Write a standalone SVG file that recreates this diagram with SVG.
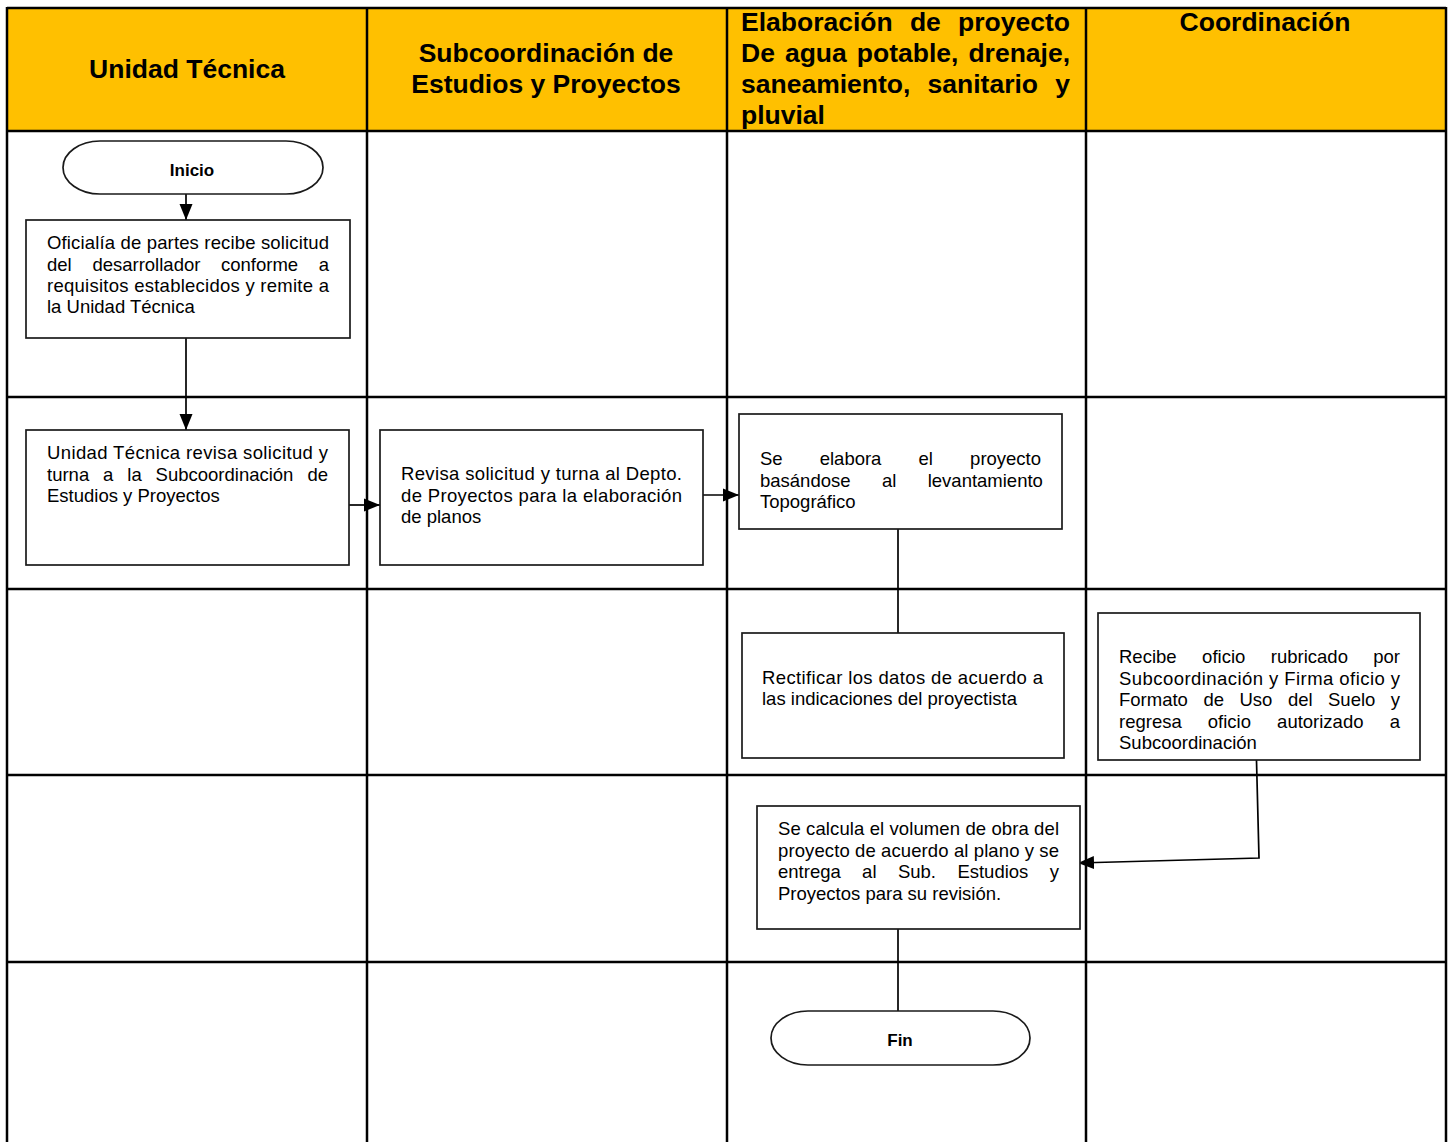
<svg xmlns="http://www.w3.org/2000/svg" width="1452" height="1142" viewBox="0 0 1452 1142">
<style>
text{font-family:"Liberation Sans",Arial,Helvetica,sans-serif;fill:#000}
.t{font-size:18.5px}
.h{font-size:26.5px;font-weight:bold}
.term{font-size:17px;font-weight:bold}
.grid{stroke:#000;stroke-width:2.5;fill:none}
.box{fill:#fff;stroke:#1a1a1a;stroke-width:1.7}
.conn{stroke:#000;stroke-width:1.7;fill:none}
</style>
<defs>
<marker id="arr" markerUnits="userSpaceOnUse" markerWidth="17" markerHeight="14" refX="16" refY="7" orient="auto">
<path d="M0,0.5 L16,7 L0,13.5 Z" fill="#000"/>
</marker>
</defs>
<rect x="0" y="0" width="1452" height="1142" fill="#fff"/>
<g id="table">
<rect x="7" y="8" width="1439" height="123" fill="#FFC000"/>
<line class="grid" x1="7" y1="8" x2="1446" y2="8"/>
<line class="grid" x1="7" y1="131" x2="1446" y2="131"/>
<line class="grid" x1="7" y1="397" x2="1446" y2="397"/>
<line class="grid" x1="7" y1="589" x2="1446" y2="589"/>
<line class="grid" x1="7" y1="775" x2="1446" y2="775"/>
<line class="grid" x1="7" y1="962" x2="1446" y2="962"/>
<line class="grid" x1="7" y1="7" x2="7" y2="1142"/>
<line class="grid" x1="367" y1="7" x2="367" y2="1142"/>
<line class="grid" x1="727" y1="7" x2="727" y2="1142"/>
<line class="grid" x1="1086" y1="7" x2="1086" y2="1142"/>
<line class="grid" x1="1446" y1="7" x2="1446" y2="1142"/>
<text class="h" x="187" y="78" text-anchor="middle">Unidad Técnica</text>
<text class="h" x="546" y="62" text-anchor="middle">Subcoordinación de</text>
<text class="h" x="546" y="93" text-anchor="middle">Estudios y Proyectos</text>
<text class="h" y="31"><tspan x="741">Elaboración</tspan><tspan x="909.9">de</tspan><tspan x="958.1">proyecto</tspan></text>
<text class="h" y="62"><tspan x="741">De</tspan><tspan x="784.9">agua</tspan><tspan x="856.8">potable,</tspan><tspan x="968.4">drenaje,</tspan></text>
<text class="h" y="93"><tspan x="741">saneamiento,</tspan><tspan x="927.6">sanitario</tspan><tspan x="1055.3">y</tspan></text>
<text class="h" x="741" y="124">pluvial</text>
<text class="h" x="1265" y="31" text-anchor="middle">Coordinación</text>
</g>
<g id="connectors">
<line class="conn" x1="186" y1="194" x2="186" y2="220" marker-end="url(#arr)"/>
<line class="conn" x1="186" y1="338" x2="186" y2="430" marker-end="url(#arr)"/>
<line class="conn" x1="349" y1="505" x2="380" y2="505" marker-end="url(#arr)"/>
<line class="conn" x1="703" y1="495" x2="739" y2="495" marker-end="url(#arr)"/>
<line class="conn" x1="898" y1="529" x2="898" y2="633"/>
<path class="conn" d="M1256,741 L1259,858 L1078,863" marker-end="url(#arr)"/>
<line class="conn" x1="898" y1="929" x2="898" y2="1011"/>
</g>
<g id="inicio">
<path class="box" d="M100,141 H286 A37,26.5 0 0 1 286,194 H100 A37,26.5 0 0 1 100,141 Z"/>
<text class="term" x="192" y="176" text-anchor="middle">Inicio</text>
</g>
<g id="n1">
<rect class="box" x="26" y="220" width="324" height="118"/>
<text class="t" x="47" y="249" textLength="282" lengthAdjust="spacing">Oficialía de partes recibe solicitud</text>
<text class="t" y="270.5"><tspan x="47">del</tspan><tspan x="92.4">desarrollador</tspan><tspan x="221">conforme</tspan><tspan x="318.7">a</tspan></text>
<text class="t" x="47" y="292" textLength="282" lengthAdjust="spacing">requisitos establecidos y remite a</text>
<text class="t" x="47" y="313">la Unidad Técnica</text>
</g>
<g id="n2">
<rect class="box" x="26" y="430" width="323" height="135"/>
<text class="t" x="47" y="459" textLength="281" lengthAdjust="spacing">Unidad Técnica revisa solicitud y</text>
<text class="t" y="480.5"><tspan x="47">turna</tspan><tspan x="103.1">a</tspan><tspan x="127.3">la</tspan><tspan x="155.6">Subcoordinación</tspan><tspan x="307.4">de</tspan></text>
<text class="t" x="47" y="502">Estudios y Proyectos</text>
</g>
<g id="n3">
<rect class="box" x="380" y="430" width="323" height="135"/>
<text class="t" x="401" y="480" textLength="281" lengthAdjust="spacing">Revisa solicitud y turna al Depto.</text>
<text class="t" x="401" y="501.5" textLength="281" lengthAdjust="spacing">de Proyectos para la elaboración</text>
<text class="t" x="401" y="523">de planos</text>
</g>
<g id="n4">
<rect class="box" x="739" y="414" width="323" height="115"/>
<text class="t" y="465"><tspan x="760">Se</tspan><tspan x="819.7">elabora</tspan><tspan x="918.5">el</tspan><tspan x="970.1">proyecto</tspan></text>
<text class="t" y="486.5"><tspan x="760">basándose</tspan><tspan x="881.9">al</tspan><tspan x="927.7">levantamiento</tspan></text>
<text class="t" x="760" y="508">Topográfico</text>
</g>
<g id="n5">
<rect class="box" x="742" y="633" width="322" height="125"/>
<text class="t" x="762" y="684" textLength="281" lengthAdjust="spacing">Rectificar los datos de acuerdo a</text>
<text class="t" x="762" y="705">las indicaciones del proyectista</text>
</g>
<g id="n6">
<rect class="box" x="1098" y="613" width="322" height="147"/>
<text class="t" y="663"><tspan x="1119">Recibe</tspan><tspan x="1202.1">oficio</tspan><tspan x="1270.8">rubricado</tspan><tspan x="1373.3">por</tspan></text>
<text class="t" x="1119" y="684.5" textLength="281" lengthAdjust="spacing">Subcoordinación y Firma oficio y</text>
<text class="t" y="706"><tspan x="1119">Formato</tspan><tspan x="1203.4">de</tspan><tspan x="1239.5">Uso</tspan><tspan x="1287.9">del</tspan><tspan x="1328">Suelo</tspan><tspan x="1390.75">y</tspan></text>
<text class="t" y="727.5"><tspan x="1119">regresa</tspan><tspan x="1207.8">oficio</tspan><tspan x="1277.1">autorizado</tspan><tspan x="1389.7">a</tspan></text>
<text class="t" x="1119" y="749">Subcoordinación</text>
</g>
<g id="n7">
<rect class="box" x="757" y="806" width="323" height="123"/>
<text class="t" x="778" y="835" textLength="281" lengthAdjust="spacing">Se calcula el volumen de obra del</text>
<text class="t" x="778" y="856.5" textLength="281" lengthAdjust="spacing">proyecto de acuerdo al plano y se</text>
<text class="t" y="878"><tspan x="778">entrega</tspan><tspan x="862.1">al</tspan><tspan x="897.9">Sub.</tspan><tspan x="957.4">Estudios</tspan><tspan x="1049.75">y</tspan></text>
<text class="t" x="778" y="899.5">Proyectos para su revisión.</text>
</g>
<g id="fin">
<path class="box" d="M808,1011 H993 A37,27 0 0 1 993,1065 H808 A37,27 0 0 1 808,1011 Z"/>
<text class="term" x="900" y="1046" text-anchor="middle">Fin</text>
</g>
</svg>
